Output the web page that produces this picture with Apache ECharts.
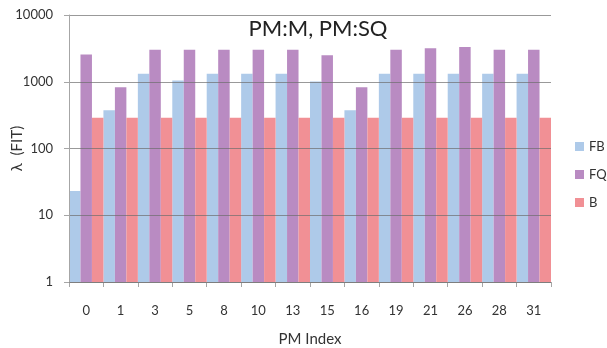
<!DOCTYPE html>
<html><head><meta charset="utf-8">
<script src="https://cdn.jsdelivr.net/npm/echarts@6/dist/echarts.min.js"></script>
<style>html,body{margin:0;padding:0;background:#fff}#c{width:607px;height:348px}</style>
</head><body><div id="c"></div>
<script>
const categories = ['0','1','3','5','8','10','13','15','16','19','21','26','28','31'];
const fbValues = [23, 373, 1320, 1040, 1320, 1320, 1320, 1010, 373, 1320, 1320, 1320, 1320, 1320];
const fqValues = [2550, 826, 3020, 3020, 3020, 3020, 3020, 2490, 826, 3020, 3170, 3320, 3020, 3020];
const bValues = [290, 290, 290, 290, 290, 290, 290, 290, 290, 290, 290, 290, 290, 290];
const seriesNames = ['FB', 'FQ', 'B'];
const colors = ['#aecae9', '#b98bc2', '#f19095'];
const font = 'Lato, "Open Sans", sans-serif';

const chart = echarts.init(document.getElementById('c'));
chart.setOption({
  animation: false,
  color: colors,
  textStyle: {fontFamily: font},
  title: {text: 'PM:M, PM:SQ', left: 313, top: 13, textAlign: 'center',
    textStyle: {fontFamily: font, fontSize: 22, fontWeight: 'normal', color: '#222'}},
  legend: {orient: 'vertical', left: 575, top: 140, padding: 0, itemWidth: 9, itemHeight: 9, itemGap: 15,
    icon: 'rect', textStyle: {fontFamily: font, fontSize: 13, color: '#333'}, data: seriesNames},
  grid: {left: 69, right: 56, top: 15, bottom: 66, containLabel: false, outerBoundsMode: 'none'},
  xAxis: {type: 'category', data: categories, name: 'PM Index', nameLocation: 'middle', nameGap: 50,
    nameMoveOverlap: false,
    nameTextStyle: {fontSize: 15, color: '#333', fontFamily: font},
    axisLine: {lineStyle: {color: '#a6a6a6'}},
    axisTick: {show: true, length: 5, lineStyle: {color: '#a6a6a6'}},
    axisLabel: {fontSize: 13, color: '#333', margin: 22, fontFamily: font}},
  yAxis: {type: 'log', logBase: 10, min: 1, max: 10000, z: 3,
    name: 'λ  (FIT)', nameLocation: 'middle', nameGap: 44, nameRotate: 90, nameMoveOverlap: false,
    nameTextStyle: {fontSize: 15, color: '#333', fontFamily: font},
    axisLine: {show: true, lineStyle: {color: '#a6a6a6'}},
    axisTick: {show: true, length: 5, lineStyle: {color: '#a6a6a6'}},
    axisLabel: {fontSize: 13, color: '#333', margin: 16, fontFamily: font,
      formatter: function (v) { return String(Math.round(v)); }},
    splitLine: {lineStyle: {color: 'rgba(110,110,110,0.7)'}}},
  series: [
    {name: 'FB', type: 'bar', data: fbValues, barGap: '0%', barCategoryGap: '0%'},
    {name: 'FQ', type: 'bar', data: fqValues, barGap: '0%', barCategoryGap: '0%'},
    {name: 'B', type: 'bar', data: bValues, barGap: '0%', barCategoryGap: '0%'}
  ]
});
</script></body></html>
